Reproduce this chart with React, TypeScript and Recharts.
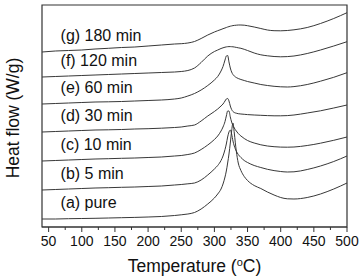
import { LineChart, Line, XAxis, YAxis, ReferenceArea, ReferenceDot } from "recharts";

// temperature grid (°C) shared by every DSC trace
const temps = [
  40, 60, 80, 100, 120, 140, 160, 180, 200, 220, 240, 250, 260, 270, 280, 290, 300, 305, 310, 313,
  316, 318, 320, 322, 324, 326, 328, 330, 333, 336, 340, 345, 350, 360, 370, 380, 390, 400, 410,
  420, 440, 460, 480, 500,
];

// heat flow, arbitrary offset units (curves are stacked, no y scale shown)
const pure = [
  8, 8, 8.3, 8.5, 8.7, 9, 9.3, 9.6, 10, 10.5, 11.5, 12.2, 13, 14.5, 18, 23, 29, 33, 38, 43,
  50, 56, 64, 73, 84, 96, 104, 94, 76, 64, 56.5, 50.5, 46.5, 41.5, 38.5, 35, 32, 29.5, 28.2,
  28, 29.5, 33, 38, 44,
];
const min5 = [
  37, 37.5, 38, 38.5, 39, 39.3, 39.7, 40, 40.5, 41, 42, 42.5, 43.2, 44, 47, 52, 58, 61.5, 66.5, 71,
  77.5, 83, 90, 95, 97, 93, 86, 81, 76, 72.5, 69.5, 66.5, 64.5, 61.5, 59.5, 57.7, 56.4, 55.5, 55,
  55.2, 57.5, 61, 65.5, 71,
];
const min10 = [
  66, 66.5, 67, 67.5, 68, 68.3, 68.7, 69, 69.5, 70, 71, 71.5, 72.5, 74, 77.5, 82, 87.5, 91, 96, 100,
  105.5, 111, 116, 116, 110, 105, 101.5, 99, 96, 93.5, 91, 88.5, 86.5, 84, 82.2, 81, 80.3, 79.9, 79.8,
  80, 81.5, 83.8, 86.7, 90,
];
const min30 = [
  95, 95.5, 96, 96.5, 97, 97.2, 97.5, 98, 98.3, 98.8, 99.5, 100, 101, 102, 106, 111, 115.5, 118, 121, 123,
  126, 128, 128.5, 126, 121, 117.5, 115.5, 114.5, 113.8, 113.3, 113, 112.7, 112.4, 112, 111.7, 111.4, 111.2, 111.2, 111.4,
  112, 114, 116.2, 119, 122,
];
const min60 = [
  123, 123.5, 124, 124.5, 125, 125.2, 125.5, 126, 126.5, 127, 128, 129, 131, 133.5, 137, 141.5, 147, 150.5, 156, 160.5,
  167, 171, 171.5, 165, 159, 155, 152.5, 151, 149.5, 148.5, 147.5, 146.5, 145.5, 144, 142.5, 141.5, 140.7, 140.2, 140,
  140.4, 142.5, 145.8, 149.7, 154.3,
];
const min120 = [
  150, 150.5, 151, 151.5, 152, 152.5, 153, 153.5, 154, 154.5, 155, 155.5, 156.5, 159, 164.5, 171, 175.5, 177, 178.5, 179.2,
  179.8, 180.1, 180.3, 180.4, 180.4, 180.3, 180.2, 180, 179.6, 179.2, 178.7, 177.7, 176.5, 174, 172.2, 171.2, 170.5, 170.2, 170.4,
  171, 173.5, 177, 181, 185.3,
];
const min180 = [
  175, 176, 176.5, 177, 178, 178.7, 179.5, 180, 181, 182, 183, 183.3, 184, 185.5, 188.5, 192, 195, 196.3, 197.5, 198.3,
  199, 199.5, 200, 200.4, 200.8, 201.1, 201.4, 201.6, 201.8, 202, 202, 201.8, 201.3, 200, 198.5, 197, 196.3, 196.2, 196.5,
  197.2, 199.5, 203.5, 208.5, 214.3,
];

const seriesKeys = ["a", "b", "c", "d", "e", "f", "g"];
const seriesValues = [pure, min5, min10, min30, min60, min120, min180];
const seriesLabels = ["(a) pure", "(b) 5 min", "(c) 10 min", "(d) 30 min", "(e) 60 min", "(f) 120 min", "(g) 180 min"];

const majorTicks = [50, 100, 150, 200, 250, 300, 350, 400, 450, 500];
const minorTicks = [75, 125, 175, 225, 275, 325, 375, 425, 475];

const data = temps.map((t, i) => {
  const row: any = { t };
  seriesKeys.forEach((k, j) => (row[k] = seriesValues[j][i]));
  return row;
});

const FONT = "Arial, 'Liberation Sans', sans-serif";
const INK = "#333";

const AxisTick = ({ x, y, payload }: any) => {
  const major = majorTicks.includes(payload.value);
  return (
    <g>
      <line x1={x} x2={x} y1={y} y2={y + (major ? 5 : 3)} stroke={INK} strokeWidth={1} />
      {major && (
        <text x={x} y={y + 18.5} textAnchor="middle" fontSize={14} fontFamily={FONT} fill="#111">
          {payload.value}
        </text>
      )}
    </g>
  );
};

const XTitle = ({ viewBox }: any) => (
  <text
    x={viewBox.x + viewBox.width / 2}
    y={viewBox.y + viewBox.height - 5}
    textAnchor="middle"
    fontSize={17.5}
    fontFamily={FONT}
    fill="#111"
  >
    Temperature (<tspan dy={-6} fontSize={11}>o</tspan>
    <tspan dy={6}>C)</tspan>
  </text>
);

export default function App() {
  return (
    <div style={{ position: "absolute", left: 0, top: 0, width: 363, height: 279, background: "#fff" }}>
      <LineChart width={363} height={279} data={data} margin={{ top: 5, right: 16, bottom: 2, left: 42 }}>
        <XAxis
          dataKey="t"
          type="number"
          domain={[40, 500]}
          ticks={[...majorTicks, ...minorTicks].sort((p, q) => p - q)}
          interval={0}
          height={50}
          tickSize={0}
          tickMargin={0}
          tickLine={false}
          tick={<AxisTick />}
          axisLine={{ stroke: INK, strokeWidth: 1.2 }}
          label={XTitle}
        />
        <YAxis yAxisId="l" type="number" domain={[0, 222]} width={0} tick={false} tickLine={false} axisLine={false} />
        <ReferenceArea
          yAxisId="l"
          x1={40}
          x2={500}
          y1={0}
          y2={222}
          fill="none"
          stroke={INK}
          strokeWidth={1.2}
          fillOpacity={0}
        />
        {seriesKeys.map((k) => (
          <Line
            key={k}
            yAxisId="l"
            type="monotone"
            dataKey={k}
            stroke="#383838"
            strokeWidth={1}
            dot={false}
            isAnimationActive={false}
          />
        ))}
        {seriesLabels.map((lbl, j) => (
          <ReferenceDot
            key={lbl}
            yAxisId="l"
            x={68}
            y={seriesValues[j][0] + 17}
            r={0}
            shape={(p: any) => (
              <text x={p.cx} y={p.cy} dominantBaseline="central" fontSize={16} fontFamily={FONT} fill="#111">
                {lbl}
              </text>
            )}
          />
        ))}
      </LineChart>
      <div
        style={{
          position: "absolute",
          left: 14,
          top: 118,
          transform: "translate(-50%, -50%) rotate(-90deg)",
          whiteSpace: "nowrap",
          fontFamily: FONT,
          fontSize: 17.5,
          color: "#111",
          lineHeight: 1,
        }}
      >
        Heat flow (W/g)
      </div>
    </div>
  );
}
